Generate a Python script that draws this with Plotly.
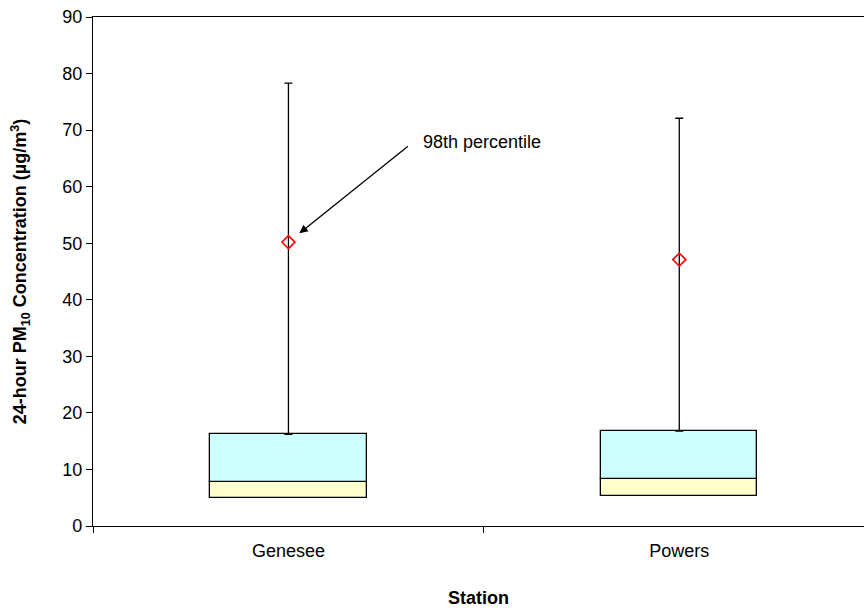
import plotly.graph_objects as go

# Station summary statistics (24-hour PM10, µg/m3)
stations = ["Genesee", "Powers"]
q1 = [5.0, 5.3]
median = [7.8, 8.3]
q3 = [16.2, 16.8]
maximum = [78.3, 72.1]
p98 = [50.2, 47.1]

y_ticks = [0, 10, 20, 30, 40, 50, 60, 70, 80, 90]

FONT = "Liberation Sans, Arial, sans-serif"
BOX_W = 0.40

fig = go.Figure()

# lower part of the box: 25th percentile to median
fig.add_trace(go.Bar(
    x=stations, y=[m - a for m, a in zip(median, q1)], base=q1,
    width=BOX_W, marker=dict(color="#FFFFCC", line=dict(color="black", width=1.3)),
    showlegend=False, hoverinfo="skip",
))
# upper part of the box: median to 75th percentile
fig.add_trace(go.Bar(
    x=stations, y=[b - m for b, m in zip(q3, median)], base=median,
    width=BOX_W, marker=dict(color="#CCFFFF", line=dict(color="black", width=1.3)),
    showlegend=False, hoverinfo="skip",
))
# whisker from the top of the box to the maximum
fig.add_trace(go.Scatter(
    x=stations, y=q3, mode="markers",
    marker=dict(size=1, color="rgba(0,0,0,0)"),
    error_y=dict(type="data", symmetric=False,
                 array=[mx - b for mx, b in zip(maximum, q3)],
                 arrayminus=[0, 0], color="black", thickness=1.3, width=4),
    showlegend=False, hoverinfo="skip",
))
# 98th percentile
fig.add_trace(go.Scatter(
    x=stations, y=p98, mode="markers",
    marker=dict(symbol="diamond-open", size=10, color="red", line=dict(width=1.6, color="red")),
    showlegend=False,
))

# arrow pointing at the Genesee 98th percentile
fig.add_annotation(
    x=0, y=p98[0], xref="x", yref="y",
    ax=121, ay=-97,
    showarrow=True, arrowhead=2, arrowsize=1.3, arrowwidth=1.3, arrowcolor="black",
    standoff=14, text="",
)
fig.add_annotation(
    x=0.34, y=67.9, xref="x", yref="y", xanchor="left", yanchor="middle",
    text="98th percentile", showarrow=False,
    font=dict(family=FONT, size=18, color="black"),
)

fig.update_layout(
    width=864, height=608,
    margin=dict(l=93, r=0, t=17, b=82),
    paper_bgcolor="white", plot_bgcolor="white",
    font=dict(family=FONT, size=18, color="black"),
    bargap=0, barmode="overlay",
    xaxis=dict(
        range=[-0.5, 1.4726], type="category",
        showline=True, linecolor="black", linewidth=1.3, mirror=True,
        ticks="outside", tickson="boundaries", ticklen=6, tickcolor="black", tickwidth=1.3,
        ticklabelstandoff=8,
        showgrid=False, zeroline=False,
        title=dict(text="<b>Station</b>", font=dict(size=18), standoff=33),
    ),
    yaxis=dict(
        range=[0, 90], tickvals=y_ticks,
        showline=True, linecolor="black", linewidth=1.3,
        ticks="outside", ticklen=6, tickcolor="black", tickwidth=1.3,
        showgrid=False, zeroline=False,
        title=dict(text="<b>24-hour PM<sub>10</sub> Concentration (µg/m<sup>3</sup>)</b>",
                   font=dict(size=18), standoff=30),
    ),
)

fig.write_html("out.html")
